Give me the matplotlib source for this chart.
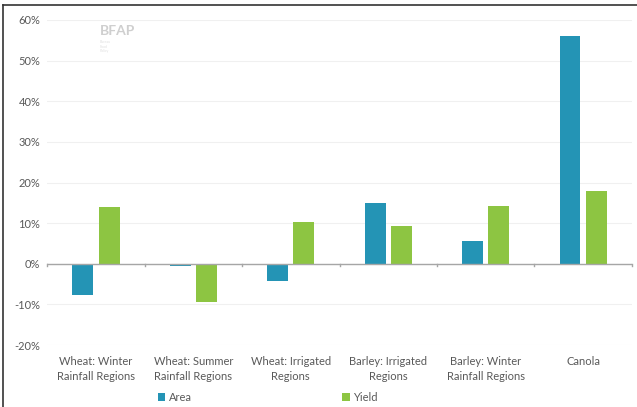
import numpy as np
import matplotlib.pyplot as plt
from matplotlib.lines import Line2D

# Values (% change)
categories = ["Wheat: Winter\nRainfall Regions", "Wheat: Summer\nRainfall Regions",
              "Wheat: Irrigated\nRegions", "Barley: Irrigated\nRegions",
              "Barley: Winter\nRainfall Regions", "Canola"]
area = [-7.6, -0.5, -4.3, 15.0, 5.5, 56.0]
yld = [14.0, -9.3, 10.2, 9.2, 14.2, 18.0]
yticks = [-20, -10, 0, 10, 20, 30, 40, 50, 60]

plt.rcParams['font.family'] = ['Lato', 'DejaVu Sans']

fig = plt.figure(figsize=(6.37, 4.07), dpi=100)
ax = fig.add_axes([0.074, 0.152, 0.918, 0.799])

x = np.arange(len(categories))
w = 0.215
ax.bar(x - 0.135, area, w, color='#2494B5', label='Area', zorder=3)
ax.bar(x + 0.135, yld, w, color='#8DC542', label='Yield', zorder=3)

ax.set_ylim(-20, 60)
ax.set_xlim(-0.5, len(categories) - 0.5)
ax.set_yticks(yticks)
ax.set_yticklabels([f"{v}%" for v in yticks], color='#595959', fontsize=8)
ax.grid(axis='y', color='#f0f0f0', linewidth=0.8, zorder=0)
ax.tick_params(axis='y', length=0, pad=5)

for s in ['top', 'right', 'left', 'bottom']:
    ax.spines[s].set_visible(False)
ax.axhline(0, color='#a6a6a6', linewidth=1.0, zorder=4)

ax.set_xticks(x)
ax.set_xticklabels(categories, color='#595959', fontsize=8, linespacing=1.45)
ax.tick_params(axis='x', which='major', length=0, pad=8)
# category boundary ticks on zero line
for b in np.arange(-0.5, len(categories), 1.0):
    ax.plot([b, b], [0, -0.6], color='#a6a6a6', linewidth=1.0, zorder=4, clip_on=False)

fig.legend(loc='lower center', bbox_to_anchor=(0.42, -0.015), ncol=2, frameon=False,
           fontsize=8, handlelength=0.7, handleheight=0.7, handletextpad=0.3,
           columnspacing=13.5, labelcolor='#595959')

# faint BFAP watermark
fig.text(0.157, 0.925, "BFAP", color='#cfcfcf', fontsize=10, fontweight='bold', va='center')
fig.text(0.157, 0.885, "Bureau\nFood\nPolicy", color='#e0e0e0', fontsize=2.5, va='center')

# image border (top and left)
fig.add_artist(Line2D([0.004, 1.0], [0.988, 0.988], color='#333333', linewidth=1.2))
fig.add_artist(Line2D([0.004, 0.004], [0.0, 0.988], color='#333333', linewidth=1.2))

fig.savefig('out.png', dpi=100)
